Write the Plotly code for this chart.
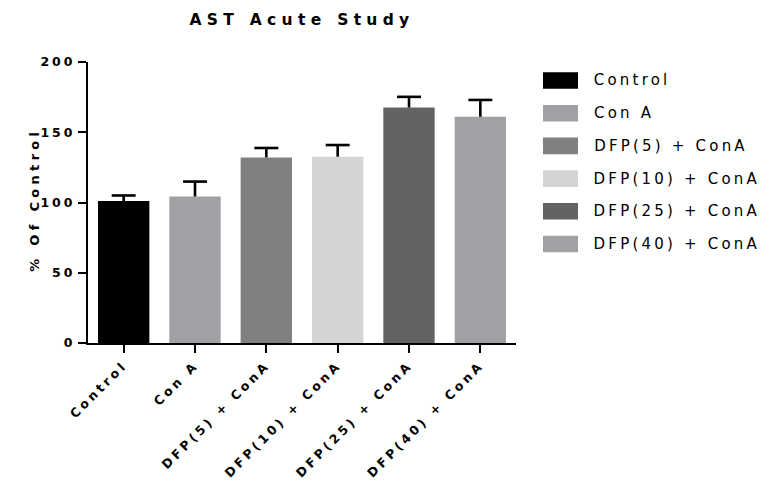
import plotly.graph_objects as go

categories = ["Control", "Con A", "DFP(5) + ConA", "DFP(10) + ConA", "DFP(25) + ConA", "DFP(40) + ConA"]
means = [101, 104.3, 132.1, 132.6, 167.6, 161.0]
errors = [4.0, 10.6, 6.7, 8.3, 7.6, 12.0]
colors = ["#000000", "#a1a0a4", "#808080", "#d4d4d4", "#636363", "#a1a0a4"]
y_ticks = [0, 50, 100, 150, 200]

FONT = "DejaVu Sans"
xpos = list(range(len(categories)))
cap = 0.168
LEG_SP = 3.2  # legend letter spacing (px)

fig = go.Figure()
fig.add_trace(go.Bar(
    x=xpos, y=means, width=0.72,
    marker=dict(color=colors, line=dict(width=0)),
    showlegend=False, hoverinfo="skip",
))

ex, ey = [], []
for i, (m, e) in enumerate(zip(means, errors)):
    ex += [i, i, None, i - cap, i + cap, None]
    ey += [m, m + e, None, m + e, m + e, None]
fig.add_trace(go.Scatter(
    x=ex, y=ey, mode="lines",
    line=dict(color="black", width=2.6),
    showlegend=False, hoverinfo="skip",
))

# plot area px: x 88..516, y 62..343
PX0, PX1, PY0, PY1 = 88, 516, 62, 343
def px_x(px):
    return (px - PX0) / (PX1 - PX0)
def px_y(py):
    return (PY1 - py) / (PY1 - PY0)

annotations = [dict(
    text="% Of Control", textangle=-90, xref="paper", yref="paper",
    x=px_x(34), y=px_y(200), xanchor="center", yanchor="middle", showarrow=False,
    font=dict(family=FONT, size=13, color="black", weight="bold"),
)]
shapes = []
row0, rowstep = 80.5, 32.7
for i, (name, c) in enumerate(zip(categories, colors)):
    cy = row0 + i * rowstep
    shapes.append(dict(
        type="rect", xref="paper", yref="paper",
        x0=px_x(543), x1=px_x(578), y0=px_y(cy - 8.3), y1=px_y(cy + 8.3),
        fillcolor=c, line=dict(width=0),
    ))
    annotations.append(dict(
        text=name, xref="paper", yref="paper",
        x=px_x(592 + len(name) * LEG_SP / 2), y=px_y(cy),
        xanchor="left", yanchor="middle", showarrow=False,
        font=dict(family=FONT, size=15, color="black"),
    ))

fig.update_layout(
    width=771, height=484,
    margin=dict(l=PX0, r=771 - PX1, t=PY0, b=484 - PY1, autoexpand=False),
    paper_bgcolor="white", plot_bgcolor="white",
    title=dict(
        text="AST Acute Study", x=0.5, xref="paper", xanchor="center",
        y=1 - 20 / 484, yref="container", yanchor="middle",
        font=dict(family=FONT, size=15.5, color="black", weight="bold"),
    ),
    xaxis=dict(
        range=[-0.5, 5.5], tickmode="array", tickvals=xpos, ticktext=categories,
        tickangle=-45, showline=True, linecolor="black", linewidth=2,
        ticks="outside", ticklen=8, tickwidth=2, tickcolor="black",
        showgrid=False, zeroline=False,
        tickfont=dict(family=FONT, size=12.5, color="black", weight="bold"),
    ),
    yaxis=dict(
        range=[0, 200], tickmode="array", tickvals=y_ticks,
        showline=True, linecolor="black", linewidth=2,
        ticks="outside", ticklen=8, tickwidth=2, tickcolor="black",
        showgrid=False, zeroline=False,
        tickfont=dict(family=FONT, size=12.5, color="black", weight="bold"),
    ),
    annotations=annotations,
    shapes=shapes,
)

post = """
var st = document.createElement('style');
st.innerHTML = 'html,body{margin:0;padding:0} .gtitle{letter-spacing:5.3px} ' +
  '.ytick text{letter-spacing:3px} .xtick text{letter-spacing:3.3px} ' +
  '.annotation text{letter-spacing:3.2px} ' +
  '.annotation[data-index="0"] text{letter-spacing:4.3px}';
document.head.appendChild(st);
"""
fig.write_html("out.html", post_script=post, config={"displayModeBar": False})
